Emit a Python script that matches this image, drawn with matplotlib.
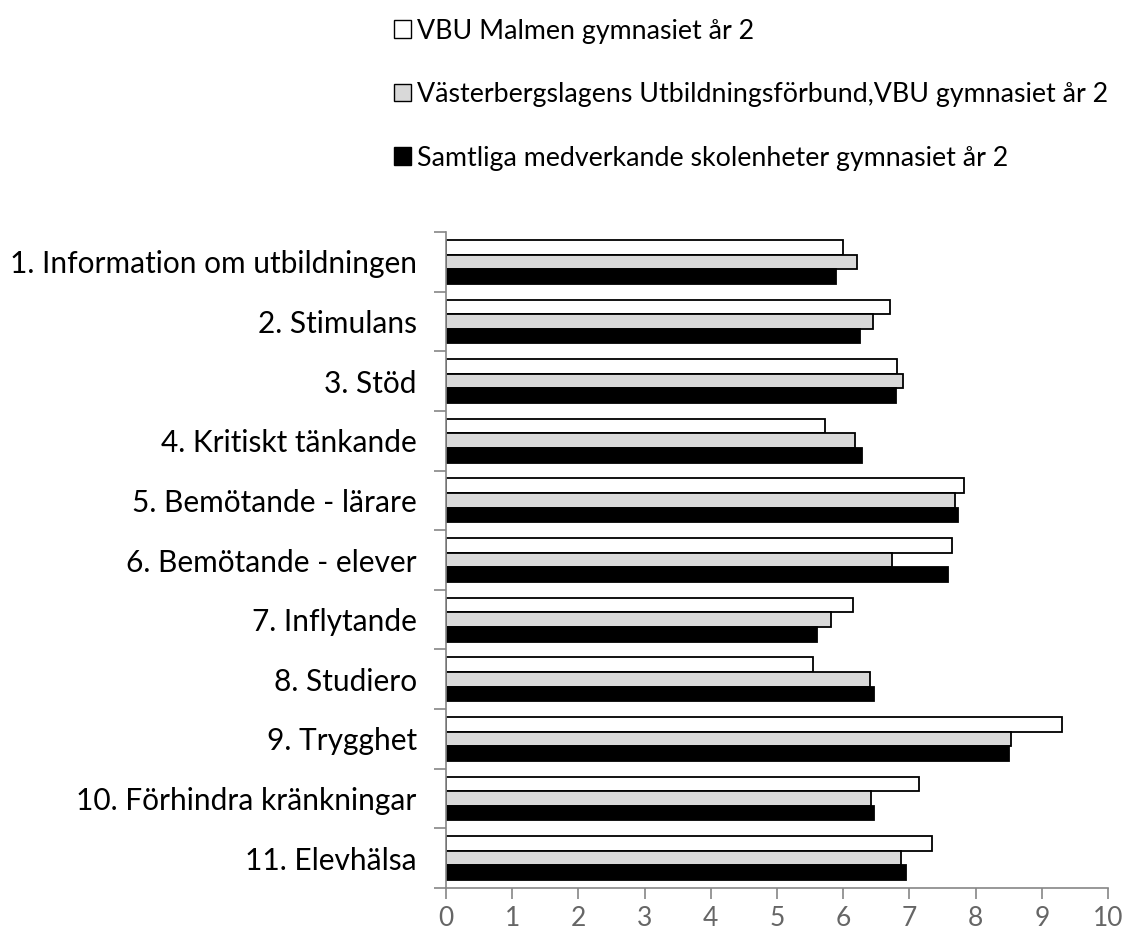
import matplotlib
matplotlib.use("Agg")
import matplotlib.pyplot as plt
import numpy as np
from matplotlib.patches import Patch

categories = [
    "1. Information om utbildningen",
    "2. Stimulans",
    "3. Stöd",
    "4. Kritiskt tänkande",
    "5. Bemötande - lärare",
    "6. Bemötande - elever",
    "7. Inflytande",
    "8. Studiero",
    "9. Trygghet",
    "10. Förhindra kränkningar",
    "11. Elevhälsa",
]
series_names = [
    "VBU Malmen gymnasiet år 2",
    "Västerbergslagens Utbildningsförbund,VBU gymnasiet år 2",
    "Samtliga medverkande skolenheter gymnasiet år 2",
]
malmen = [6.00, 6.71, 6.82, 5.73, 7.82, 7.65, 6.15, 5.55, 9.30, 7.15, 7.34]
vbu = [6.21, 6.45, 6.91, 6.18, 7.69, 6.73, 5.82, 6.40, 8.54, 6.42, 6.88]
samtliga = [5.89, 6.25, 6.80, 6.28, 7.74, 7.59, 5.61, 6.47, 8.50, 6.47, 6.95]
xticks = list(range(0, 11))

plt.rcParams['font.family'] = ['Lato', 'DejaVu Sans']

fig = plt.figure(figsize=(11.23, 9.38), dpi=100)
ax = fig.add_axes([446/1123, 1-888/938, (1108-446)/1123, (888-232)/938])

n = len(categories)
y = np.arange(n)
h = 0.245
face = ["white", "#D9D9D9", "black"]
data = [malmen, vbu, samtliga]
for i, (vals, fc) in enumerate(zip(data, face)):
    ax.barh(y + (i - 1) * h, vals, height=h, color=fc, edgecolor="black", linewidth=1.3)

ax.set_ylim(n - 0.5, -0.5)
ax.set_xlim(0, 10)
ax.set_xticks(xticks)
ax.set_xticklabels([str(t) for t in xticks], fontsize=19, color="#666666")
ax.set_yticks(np.arange(n + 1) - 0.5, minor=False)
ax.set_yticklabels([])
ax.set_yticks(y, minor=True)
ax.set_yticklabels(categories, minor=True, fontsize=21.5, color="black")
ax.tick_params(axis='y', which='minor', length=0, pad=21)
ax.tick_params(axis='y', which='major', length=9, width=1.2, color="#868686", direction='out')
ax.tick_params(axis='x', length=8, width=1.2, color="#868686", direction='out', pad=5)
for s in ["top", "right"]:
    ax.spines[s].set_visible(False)
for s in ["left", "bottom"]:
    ax.spines[s].set_color("#868686")
    ax.spines[s].set_linewidth(1.2)

handles = [Patch(facecolor=fc, edgecolor="black", linewidth=1) for fc in face]
fig.legend(handles, series_names, loc="upper left", bbox_to_anchor=(394/1123, 1-18.5/938),
           frameon=False, fontsize=19.3, handlelength=0.63, handleheight=0.63,
           handletextpad=0.22, labelspacing=1.44, borderpad=0, borderaxespad=0)

fig.savefig("out.png", dpi=100)
